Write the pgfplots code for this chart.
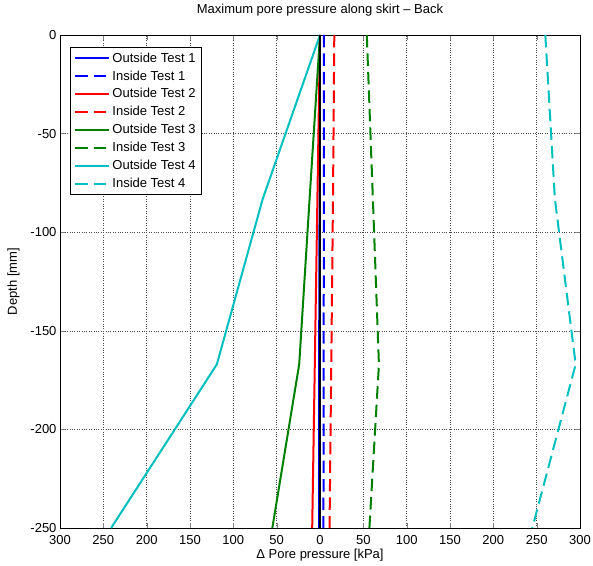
\documentclass[border=0pt]{standalone}
\usepackage{fontspec}
\setmainfont{Liberation Sans}
\usepackage{pgfplots}
\pgfplotsset{compat=1.18}
\definecolor{mblue}{rgb}{0,0,1}
\definecolor{mred}{rgb}{1,0,0}
\definecolor{mgreen}{rgb}{0,0.5,0}
\definecolor{mcyan}{rgb}{0,0.75,0.75}
\begin{document}
\begin{tikzpicture}
\begin{axis}[
  scale only axis,
  width=520pt, height=493pt,
  xmin=-300, xmax=300, ymin=-250, ymax=0,
  xtick={-300,-250,...,300},
  xticklabels={300,250,200,150,100,50,0,50,100,150,200,250,300},
  ytick={-250,-200,...,0},
  /pgf/number format/assume math mode=true,
  tick label style={font=\fontsize{13}{15}\selectfont},
  label style={font=\fontsize{13}{15}\selectfont},
  title style={font=\fontsize{13}{15}\selectfont, yshift=9pt},
  title={Maximum pore pressure along skirt -- Back},
  xlabel={Δ Pore pressure [kPa]},
  ylabel={Depth [mm]},
  xlabel style={yshift=3pt},
  ylabel style={yshift=4pt},
  xticklabel style={yshift=-4pt},
  grid=major,
  major grid style={dotted, black!70, line width=0.6pt},
  tick align=inside,
  ticks=both,
  major tick length=5pt,
  axis line style={black, line width=0.6pt},
  legend style={at={(0.019,0.975)}, anchor=north west, font=\fontsize{13}{15}\selectfont, draw=black, line width=0.8pt, row sep=3pt, inner xsep=4pt, inner ysep=3pt},
  legend cell align=left,
  legend image code/.code={\draw[#1] (0cm,0cm) -- (1.2cm,0cm);},
  every axis plot/.append style={line width=2pt},
]
\addplot[mblue, solid] coordinates {(0,0) (-0.5,-83) (-1,-167) (-1,-250)};
\addlegendentry{Outside Test 1}
\addplot[mblue, dash pattern=on 12.5pt off 6pt] coordinates {(4.5,0) (4.5,-83) (4.2,-167) (4,-250)};
\addlegendentry{Inside Test 1}
\addplot[mred, solid] coordinates {(0,0) (-3,-83) (-6,-167) (-9,-250)};
\addlegendentry{Outside Test 2}
\addplot[mred, dash pattern=on 12.5pt off 6pt] coordinates {(16.5,0) (15,-83) (13,-167) (11,-250)};
\addlegendentry{Inside Test 2}
\addplot[mgreen, solid] coordinates {(0,0) (-12,-83) (-24,-167) (-55,-250)};
\addlegendentry{Outside Test 3}
\addplot[mgreen, dash pattern=on 12.5pt off 6pt] coordinates {(54,0) (61,-83) (68,-167) (57,-250)};
\addlegendentry{Inside Test 3}
\addplot[mcyan, solid] coordinates {(0,0) (-66,-83) (-119,-167) (-241,-250)};
\addlegendentry{Outside Test 4}
\addplot[mcyan, dash pattern=on 12.5pt off 6pt] coordinates {(260,0) (271,-83) (295,-167) (245,-250)};
\addlegendentry{Inside Test 4}
\addplot[black, line width=2pt, forget plot] coordinates {(0,0) (0,-250)};
\end{axis}
\pgfresetboundingbox
\path[use as bounding box] ([xshift=-60pt,yshift=-37pt]current axis.south west) rectangle ([xshift=13pt,yshift=35pt]current axis.north east);
\end{tikzpicture}
\end{document}
